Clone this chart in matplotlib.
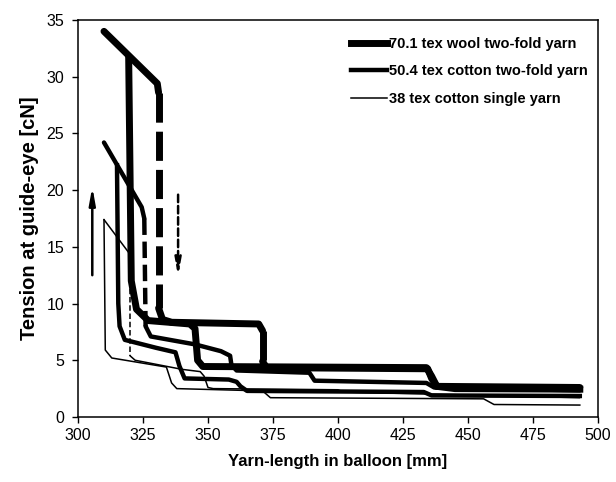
import numpy as np
import matplotlib
matplotlib.use('Agg')
import matplotlib.pyplot as plt

plt.rcParams['font.family'] = ['Liberation Sans', 'DejaVu Sans']

# 70.1 tex wool two-fold yarn: shortening path (rise) and lengthening path (drop)
wool_rise_x = [493, 445, 438, 436, 434, 348, 346, 345, 343, 327, 322.5, 320.5, 319.5]
wool_rise_y = [2.45, 2.5, 2.7, 3.6, 4.35, 4.45, 5.0, 7.8, 8.2, 8.5, 9.5, 12.0, 31.6]
wool_drop_x = [310, 330.5, 331, 331, 332.5, 336, 369.5, 371, 371, 372.5, 434.5, 436, 438, 493]
wool_drop_y = [34.0, 29.4, 28.6, 9.6, 8.6, 8.35, 8.2, 7.6, 4.9, 4.35, 4.25, 3.4, 2.7, 2.6]

# 50.4 tex cotton two-fold yarn
cot2_rise_x = [493, 436, 433, 365, 362.5, 361, 358, 341, 339, 337.5, 330, 318, 316, 315.5, 315]
cot2_rise_y = [1.85, 1.9, 2.2, 2.3, 2.7, 3.1, 3.3, 3.4, 4.5, 5.7, 6.1, 6.8, 8.0, 10.0, 22.2]
cot2_drop_x = [310, 324.5, 325.5, 326, 328, 345, 355, 358.5, 359, 361, 389, 391, 434, 437, 493]
cot2_drop_y = [24.2, 18.5, 17.5, 8.0, 7.1, 6.4, 5.8, 5.4, 4.6, 4.1, 3.9, 3.2, 3.0, 2.6, 2.35]

# 38 tex cotton single yarn
cot1_rise_x = [493, 460, 456, 374, 371, 338, 336, 334, 313, 310.5, 310]
cot1_rise_y = [1.05, 1.1, 1.6, 1.7, 2.3, 2.5, 3.0, 4.4, 5.2, 5.9, 17.4]
cot1_drop_x = [310, 319.5, 320, 320, 322, 340, 347, 348.5, 350, 352, 400, 402, 493]
cot1_drop_y = [17.4, 14.5, 13.5, 5.4, 5.0, 4.2, 4.0, 3.6, 2.6, 2.5, 2.4, 2.2, 1.7]

labels = ['70.1 tex wool two-fold yarn', '50.4 tex cotton two-fold yarn',
          '38 tex cotton single yarn']


def plot_drop(ax, xs, ys, lw, dashes):
    # steep falls of the lengthening path are dashed, the rest is solid
    xs, ys = np.asarray(xs, float), np.asarray(ys, float)
    steep = (np.abs(np.diff(ys)) > 1.5) & (np.abs(np.diff(xs)) < 2)
    start = 0
    for i in range(1, len(steep) + 1):
        if i == len(steep) or steep[i] != steep[start]:
            seg = slice(start, i + 1)
            if steep[start]:
                ax.plot(xs[seg], ys[seg], color='black', lw=lw,
                        dashes=dashes, dash_capstyle='butt')
            else:
                ax.plot(xs[seg], ys[seg], color='black', lw=lw,
                        solid_joinstyle='round', solid_capstyle='round')
            start = i


fig = plt.figure(figsize=(6.16, 4.82), dpi=100)
ax = fig.add_axes([0.1266, 0.1349, 0.8442, 0.8236])

lw_thick, lw_mid, lw_thin = 5.0, 3.2, 1.1

l1, = ax.plot(wool_rise_x, wool_rise_y, color='black', lw=lw_thick,
              solid_joinstyle='round', label=labels[0])
plot_drop(ax, wool_drop_x, wool_drop_y, lw_thick, (4.2, 1.3))

l2, = ax.plot(cot2_rise_x, cot2_rise_y, color='black', lw=lw_mid,
              solid_joinstyle='round', label=labels[1])
plot_drop(ax, cot2_drop_x, cot2_drop_y, lw_mid, (3.7, 1.5))

l3, = ax.plot(cot1_rise_x, cot1_rise_y, color='black', lw=lw_thin, label=labels[2])
plot_drop(ax, cot1_drop_x, cot1_drop_y, lw_thin, (3.6, 1.8))

# direction arrows
ax.annotate('', xy=(305.5, 20.3), xytext=(305.5, 12.5),
            arrowprops=dict(arrowstyle='-|>,head_length=1.0,head_width=0.18',
                            color='black', lw=1.8, shrinkA=0, shrinkB=0))
ax.annotate('', xy=(338.5, 12.4), xytext=(338.5, 19.6),
            arrowprops=dict(arrowstyle='-|>,head_length=1.0,head_width=0.18',
                            color='black', lw=1.8, ls=(0, (3, 1.5)),
                            shrinkA=0, shrinkB=0))

ax.set_xlim(300, 500)
ax.set_ylim(0, 35)
ax.set_xticks(np.arange(300, 501, 25))
ax.set_yticks(np.arange(0, 36, 5))
ax.tick_params(direction='out', length=4, width=1, labelsize=11.5)
ax.tick_params(axis='y', pad=6)
ax.tick_params(axis='x', pad=4)
for s in ax.spines.values():
    s.set_linewidth(1.1)

ax.set_xlabel('Yarn-length in balloon [mm]', fontsize=12, fontweight='bold', labelpad=8)
ax.set_ylabel('Tension at guide-eye [cN]', fontsize=14.5, fontweight='bold', labelpad=5)

ax.legend(handles=[l1, l2, l3], loc='upper left', bbox_to_anchor=(0.513, 0.972),
          frameon=False, prop={'weight': 'bold', 'size': 10.5},
          handlelength=2.5, handletextpad=0.1, labelspacing=0.92, borderaxespad=0)

fig.savefig('out.png', dpi=100)
